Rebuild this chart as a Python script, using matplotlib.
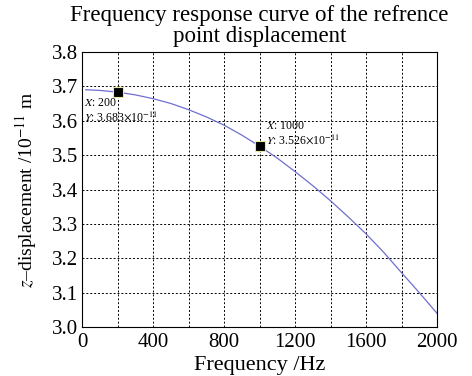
import numpy as np
import matplotlib
matplotlib.use("Agg")
import matplotlib.pyplot as plt
from matplotlib.ticker import MultipleLocator

plt.rcParams['font.family'] = ['Liberation Serif', 'DejaVu Serif']
plt.rcParams['mathtext.fontset'] = 'stix'

# frequency response
freq = [20, 100, 200, 300, 400, 500, 600, 700, 800, 900, 1000,
        1100, 1200, 1300, 1400, 1500, 1600, 1700, 1800, 1900, 2000]
disp = [3.690, 3.688, 3.683, 3.675, 3.664, 3.650, 3.632, 3.611, 3.587, 3.558, 3.526,
        3.491, 3.452, 3.411, 3.367, 3.320, 3.271, 3.217, 3.158, 3.100, 3.040]

# data tips
tip_x = [200, 1000]
tip_y = [3.683, 3.526]

fig = plt.figure(figsize=(4.72, 3.76), dpi=100)
ax = fig.add_axes([0.174, 0.130, 0.752, 0.732])

ax.plot(freq, disp, color='#6f6fcf', linewidth=0.9)
ax.plot(tip_x, tip_y, linestyle='none', marker='s', markersize=6.5,
        markerfacecolor='black', markeredgecolor='#e8e8a0', markeredgewidth=0.8)

ax.annotate(f"$X$: {tip_x[0]}\n$Y$: {tip_y[0]:.3f}$\\times$10$^{{-11}}$",
            xy=(tip_x[0], tip_y[0]), xytext=(-24.5, -3.5), textcoords='offset points',
            fontsize=8.5, va='top', ha='left', linespacing=1.1)
ax.annotate(f"$X$: {tip_x[1]}\n$Y$: {tip_y[1]:.3f}$\\times$10$^{{-11}}$",
            xy=(tip_x[1], tip_y[1]), xytext=(4.5, 19), textcoords='offset points',
            fontsize=8.5, va='top', ha='left', linespacing=1.1)

ax.set_xlim(0, 2000)
ax.set_ylim(3.0, 3.8)
ax.xaxis.set_major_locator(MultipleLocator(400))
ax.xaxis.set_minor_locator(MultipleLocator(200))
ax.yaxis.set_major_locator(MultipleLocator(0.1))
ax.yaxis.set_major_formatter(matplotlib.ticker.FormatStrFormatter('%.1f'))
ax.grid(True, which='both', color='black', linestyle=(0, (2, 2)), linewidth=0.7)
ax.tick_params(which='both', direction='in', length=0, labelsize=15)
ax.tick_params(axis='x', pad=4)
ax.tick_params(axis='y', pad=3)
for s in ax.spines.values():
    s.set_linewidth(0.8)

ax.set_xlabel("Frequency /Hz", fontsize=16, labelpad=3)
ax.set_ylabel("$z$–displacement /10$^{-11}$ m", fontsize=14, labelpad=9)
ax.set_title("Frequency response curve of the refrence\npoint displacement",
             fontsize=16.5, linespacing=0.98, pad=7)

fig.savefig("out.png", dpi=100)
